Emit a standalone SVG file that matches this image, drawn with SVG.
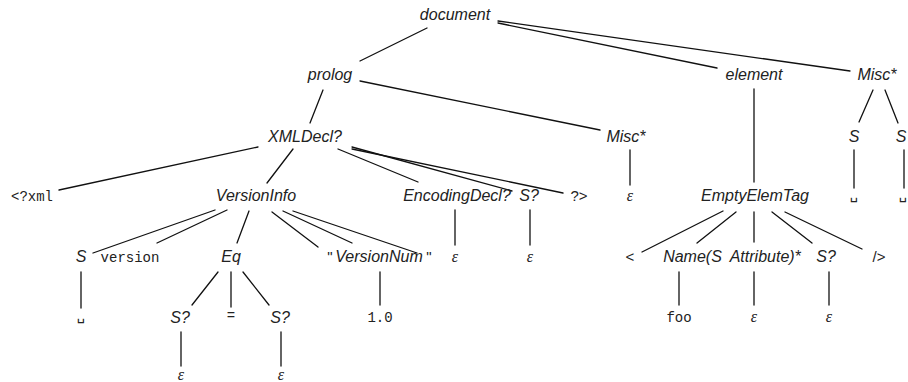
<svg xmlns="http://www.w3.org/2000/svg" width="908" height="382" viewBox="0 0 908 382">
  <style>
    .nt { font-family: "Liberation Sans", Arial, sans-serif; font-style: italic; font-size: 16px; fill: #222; text-anchor: middle; }
    .lit { font-family: "Liberation Sans", Arial, sans-serif; font-size: 15px; fill: #222; text-anchor: middle; }
    .tt { font-family: "Liberation Mono", "DejaVu Sans Mono", monospace; font-size: 14px; fill: #222; text-anchor: middle; }
    .sp { font-family: "DejaVu Sans Mono", "Liberation Mono", monospace; font-size: 14px; fill: #222; text-anchor: middle; }
    .eps { font-family: "Liberation Serif", "DejaVu Serif", serif; font-style: italic; font-size: 16px; fill: #222; text-anchor: middle; }
    .edges line { stroke: #111; stroke-width: 1.3; stroke-linecap: round; }
  </style>

  <!-- tree edges -->
  <g id="connectors" class="edges">
    <!-- document -->
    <line x1="427" y1="28" x2="360" y2="61"/>
    <line x1="498" y1="23" x2="717" y2="68"/>
    <line x1="498" y1="21" x2="850" y2="71"/>
    <!-- prolog -->
    <line x1="323" y1="90" x2="310" y2="123"/>
    <line x1="360" y1="81" x2="600" y2="130"/>
    <!-- element -->
    <line x1="754" y1="89" x2="754" y2="182"/>
    <!-- Misc* (document) -->
    <line x1="873" y1="90" x2="859" y2="122"/>
    <line x1="885" y1="90" x2="898" y2="123"/>
    <line x1="854" y1="150" x2="854" y2="188"/>
    <line x1="904" y1="150" x2="904" y2="188"/>
    <!-- XMLDecl? -->
    <line x1="258" y1="147" x2="59" y2="190"/>
    <line x1="293" y1="149" x2="267" y2="183"/>
    <line x1="338" y1="149" x2="418" y2="182"/>
    <line x1="352" y1="147" x2="512" y2="191"/>
    <line x1="352" y1="149" x2="563" y2="193"/>
    <!-- Misc* (prolog) -->
    <line x1="630" y1="150" x2="630" y2="185"/>
    <!-- EncodingDecl?, S? -->
    <line x1="455" y1="210" x2="455" y2="245"/>
    <line x1="530" y1="210" x2="530" y2="245"/>
    <!-- VersionInfo -->
    <line x1="215" y1="210" x2="93" y2="253"/>
    <line x1="227" y1="210" x2="157" y2="243"/>
    <line x1="249" y1="211" x2="237" y2="243"/>
    <line x1="272" y1="212" x2="318" y2="247"/>
    <line x1="283" y1="211" x2="352" y2="243"/>
    <line x1="293" y1="211" x2="417" y2="253"/>
    <!-- S, Eq, VersionNum -->
    <line x1="81" y1="272" x2="81" y2="308"/>
    <line x1="218" y1="272" x2="192" y2="305"/>
    <line x1="231" y1="272" x2="231" y2="307"/>
    <line x1="243" y1="272" x2="269" y2="305"/>
    <line x1="380" y1="272" x2="380" y2="305"/>
    <!-- S? under Eq -->
    <line x1="181" y1="332" x2="181" y2="366"/>
    <line x1="281" y1="332" x2="281" y2="366"/>
    <!-- EmptyElemTag -->
    <line x1="723" y1="211" x2="642" y2="252"/>
    <line x1="736" y1="212" x2="697" y2="243"/>
    <line x1="754" y1="212" x2="754" y2="242"/>
    <line x1="772" y1="212" x2="812" y2="243"/>
    <line x1="785" y1="212" x2="862" y2="249"/>
    <line x1="679" y1="272" x2="679" y2="305"/>
    <line x1="754" y1="272" x2="754" y2="305"/>
    <line x1="829" y1="272" x2="829" y2="305"/>
  </g>

  <!-- level 0 -->
  <g id="document"><text class="nt" x="455" y="20">document</text></g>

  <!-- level 1 -->
  <g id="prolog"><text class="nt" x="330" y="80">prolog</text></g>
  <g id="element"><text class="nt" x="754" y="80">element</text></g>
  <g id="misc-trailing"><text class="nt" x="877" y="80">Misc*</text></g>

  <!-- level 2 -->
  <g id="xmldecl"><text class="nt" x="305" y="142">XMLDecl?</text></g>
  <g id="misc-prolog"><text class="nt" x="626" y="142">Misc*</text></g>
  <g id="s-trailing-1"><text class="nt" x="854" y="142">S</text></g>
  <g id="s-trailing-2"><text class="nt" x="901" y="142">S</text></g>

  <!-- level 3 -->
  <g id="xml-open"><text class="tt" x="32" y="201">&lt;?xml</text></g>
  <g id="versioninfo"><text class="nt" x="256" y="201">VersionInfo</text></g>
  <g id="encodingdecl"><text class="nt" x="457" y="201">EncodingDecl?</text></g>
  <g id="s-opt-xmldecl"><text class="nt" x="529" y="201">S?</text></g>
  <g id="xml-close"><text class="lit" x="579" y="201">?&gt;</text></g>
  <g id="eps-misc"><text class="eps" x="630" y="201">ε</text></g>
  <g id="emptyelemtag"><text class="nt" x="755" y="201">EmptyElemTag</text></g>
  <g id="space-trailing-1"><text class="sp" x="854" y="199">␣</text></g>
  <g id="space-trailing-2"><text class="sp" x="903" y="199">␣</text></g>

  <!-- level 4 -->
  <g id="s-version"><text class="nt" x="81" y="262">S</text></g>
  <g id="kw-version"><text class="tt" x="130" y="262">version</text></g>
  <g id="eq"><text class="nt" x="231" y="262">Eq</text></g>
  <g id="quote-open"><text class="lit" x="330" y="262">"</text></g>
  <g id="versionnum"><text class="nt" x="379" y="262">VersionNum</text></g>
  <g id="quote-close"><text class="lit" x="429" y="262">"</text></g>
  <g id="eps-encoding"><text class="eps" x="455" y="262">ε</text></g>
  <g id="eps-s-opt"><text class="eps" x="530" y="262">ε</text></g>
  <g id="tag-open"><text class="lit" x="630" y="262">&lt;</text></g>
  <g id="name-attrs"><text class="nt" x="732" y="262" word-spacing="4">Name(S Attribute)*</text></g>
  <g id="s-opt-tag"><text class="nt" x="826" y="262">S?</text></g>
  <g id="tag-close"><text class="lit" x="879" y="262">/&gt;</text></g>

  <!-- level 5 -->
  <g id="space-version"><text class="sp" x="81" y="320">␣</text></g>
  <g id="s-opt-eq-1"><text class="nt" x="180" y="323">S?</text></g>
  <g id="eq-sign"><text class="tt" x="231" y="320">=</text></g>
  <g id="s-opt-eq-2"><text class="nt" x="280" y="323">S?</text></g>
  <g id="num-value"><text class="tt" x="380" y="322">1.0</text></g>
  <g id="name-foo"><text class="tt" x="679" y="322">foo</text></g>
  <g id="eps-attrs"><text class="eps" x="754" y="322">ε</text></g>
  <g id="eps-s-tag"><text class="eps" x="829" y="322">ε</text></g>

  <!-- level 6 -->
  <g id="eps-eq-1"><text class="eps" x="181" y="380">ε</text></g>
  <g id="eps-eq-2"><text class="eps" x="281" y="380">ε</text></g>
</svg>
